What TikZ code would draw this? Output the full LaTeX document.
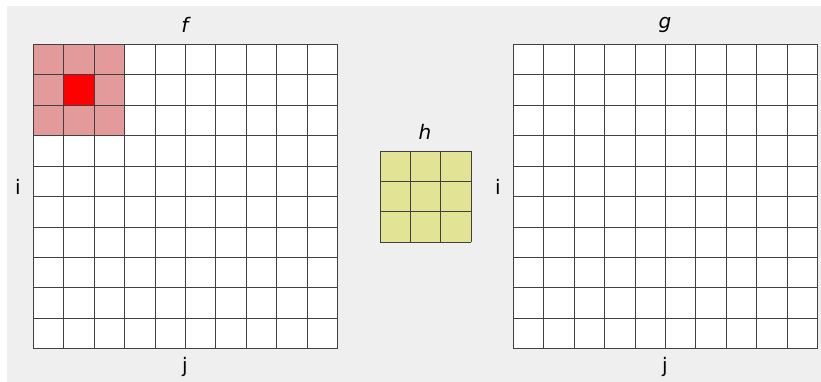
\documentclass[tikz,border=0pt]{standalone}
\usepackage{fontspec}
\setmainfont{DejaVu Sans}
\definecolor{panelgray}{HTML}{EFEFEF}
\definecolor{pinkhl}{HTML}{E39A9A}
\definecolor{redcell}{HTML}{FF0000}
\definecolor{yelcell}{HTML}{E3E396}
\definecolor{gridline}{HTML}{404040}
\begin{document}
\begin{tikzpicture}[x=1pt,y=-1pt,
  gridstyle/.style={draw=gridline,line width=0.8pt},
  lbl/.style={font=\fontsize{20}{20}\selectfont,inner sep=0pt},
  mlbl/.style={font=\fontsize{20}{20}\selectfont\itshape,inner sep=0pt}]
\useasboundingbox (0,0) rectangle (821,382);
\fill[panelgray] (7,6) rectangle (821,382);
% f grid
\fill[white] (33.3,44.5) rectangle (337.3,348.5);
\fill[pinkhl] (33.3,44.5) rectangle (124.5,135.7);
\fill[redcell] (63.7,74.9) rectangle (94.1,105.3);
\foreach \k in {0,...,10} {
  \draw[gridstyle] (33.3+30.4*\k,44.5) -- (33.3+30.4*\k,348.5);
  \draw[gridstyle] (33.3,44.5+30.4*\k) -- (337.3,44.5+30.4*\k);
}
% g grid
\fill[white] (513.3,44.5) rectangle (817.3,348.5);
\foreach \k in {0,...,10} {
  \draw[gridstyle] (513.3+30.4*\k,44.5) -- (513.3+30.4*\k,348.5);
  \draw[gridstyle] (513.3,44.5+30.4*\k) -- (817.3,44.5+30.4*\k);
}
% h grid
\fill[yelcell] (380,151) rectangle (471.2,242.2);
\foreach \k in {0,...,3} {
  \draw[gridstyle] (380+30.4*\k,151) -- (380+30.4*\k,242.2);
  \draw[gridstyle] (380,151+30.4*\k) -- (471.2,151+30.4*\k);
}
% labels
\node[mlbl] (f) at (185,25) {f};
\node[mlbl] (g) at (665,25) {g};
\node[mlbl] (h) at (425,132) {h};
\node[lbl] (fi) at (18,187) {i};
\node[lbl] (gi) at (498,187) {i};
\node[lbl] (fj) at (185,367) {j};
\node[lbl] (gj) at (665,367) {j};
\end{tikzpicture}
\end{document}
